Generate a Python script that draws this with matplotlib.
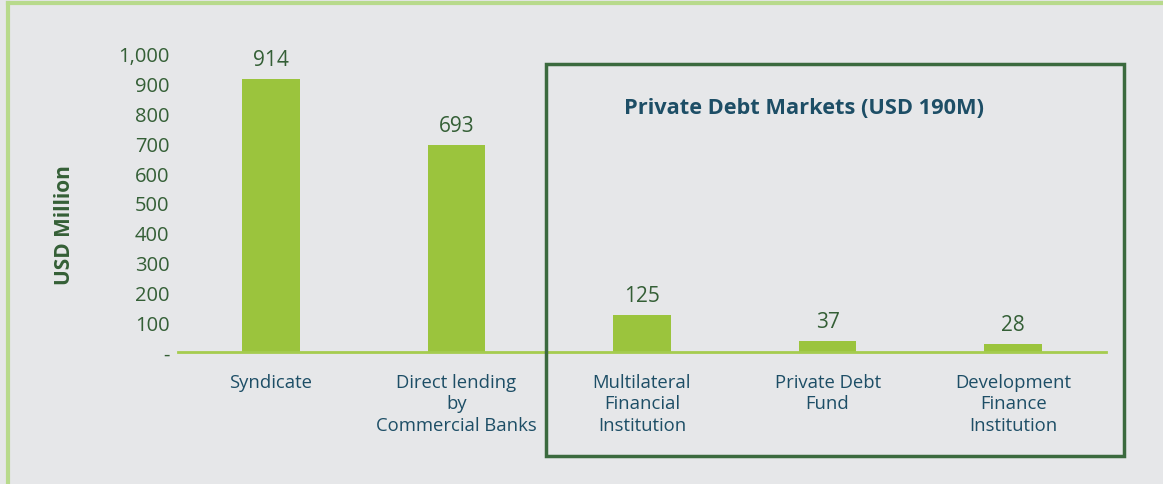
import matplotlib.pyplot as plt
from matplotlib.patches import Rectangle
from matplotlib.lines import Line2D

# Debt financing by source, USD million
categories = ["Syndicate", "Direct lending\nby\nCommercial Banks",
              "Multilateral\nFinancial\nInstitution", "Private Debt\nFund",
              "Development\nFinance\nInstitution"]
values = [914, 693, 125, 37, 28]
yticks = [0, 100, 200, 300, 400, 500, 600, 700, 800, 900, 1000]
ytick_labels = ["-", "100", "200", "300", "400", "500", "600", "700", "800", "900", "1,000"]

BG = "#e6e7e9"
BAR = "#9bc43d"
DARK_GREEN = "#345f36"
NAVY = "#1d4e66"

plt.rcParams["font.family"] = ["Open Sans", "DejaVu Sans"]

W, H = 1163, 485
fig = plt.figure(figsize=(W / 100, H / 100), dpi=100, facecolor=BG)
ax = fig.add_axes([0.153, 0.272, 0.798, 0.615], facecolor=BG)

x = list(range(len(categories)))
ax.bar(x, values, width=0.31, color=BAR, zorder=2)
for xi, v in zip(x, values):
    ax.text(xi, v + 66, str(v), ha="center", va="center",
            fontsize=15, color=DARK_GREEN)

ax.set_xlim(-0.5, len(categories) - 0.5)
ax.set_ylim(0, 1000)
ax.set_yticks(yticks)
ax.set_yticklabels(ytick_labels, fontsize=14.5, color=DARK_GREEN)
ax.set_xticks(x)
ax.set_xticklabels(categories, fontsize=13.3, color=NAVY, linespacing=1.24)
ax.tick_params(axis="both", length=0)
ax.tick_params(axis="x", pad=15)
ax.tick_params(axis="y", pad=6)

fig.text(65 / W, 1 - 225 / H, "USD Million", rotation=90, ha="center", va="center",
         fontsize=15, fontweight="bold", color=DARK_GREEN)

for side in ["top", "right", "left"]:
    ax.spines[side].set_visible(False)
ax.spines["bottom"].set_color("#a5cc4f")
ax.spines["bottom"].set_linewidth(2)
ax.spines["bottom"].set_zorder(3)

# box around the private debt group
box = Rectangle((546 / W, 1 - 457 / H), (1124 - 546) / W, (457 - 65) / H,
                transform=fig.transFigure, fill=False, edgecolor="#3b6a3e",
                linewidth=2.5, zorder=5)
fig.add_artist(box)
fig.text(804 / W, 1 - 108 / H, "Private Debt Markets (USD 190M)",
         ha="center", va="center", fontsize=15.7, fontweight="bold", color=NAVY)

# light green frame along the top and left edges
fig.add_artist(Line2D([8 / W, 1], [1 - 4 / H, 1 - 4 / H], transform=fig.transFigure,
                      color="#b8da8c", linewidth=3))
fig.add_artist(Line2D([8 / W, 8 / W], [0, 1 - 4 / H], transform=fig.transFigure,
                      color="#b8da8c", linewidth=3))

fig.savefig("out.png", dpi=100, facecolor=BG)
